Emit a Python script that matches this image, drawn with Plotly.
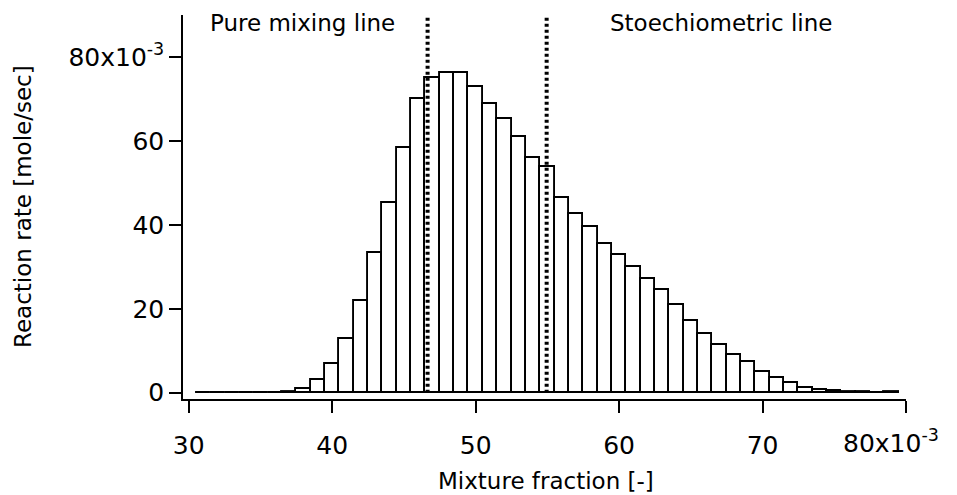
import plotly.graph_objects as go

# histogram bins (x10^-3), centre of each 1e-3 wide bin
mix_frac = list(range(31, 80))
rate = [0.05, 0.05, 0.05, 0.05, 0.05, 0.0, 0.2, 1.0, 3.0, 6.8,
        12.9, 21.9, 33.3, 45.1, 58.4, 70.1, 74.9, 76.2, 76.2, 72.8,
        68.8, 65.2, 60.9, 55.9, 53.7, 46.5, 42.5, 39.6, 35.4, 32.7,
        30.0, 27.2, 24.4, 20.8, 17.1, 14.1, 11.3, 9.1, 7.2, 5.0,
        3.6, 2.3, 1.2, 0.7, 0.4, 0.15, 0.1, 0.0, 0.1]

pure_mixing = 46.65
stoechiometric = 54.95

x_ticks = [30, 40, 50, 60, 70, 80]
x_ticktext = ["30", "40", "50", "60", "70", " "]
y_ticks = [0, 20, 40, 60, 80]
y_ticktext = ["0", "20", "40", "60", "80x10<sup>-3</sup>"]

FONT = "DejaVu Sans"

fig = go.Figure()
fig.add_bar(
    x=mix_frac,
    y=rate,
    width=1,
    marker=dict(color="white", line=dict(color="black", width=1.9)),
)

for xv in [pure_mixing, stoechiometric]:
    fig.add_shape(
        type="line", xref="x", yref="y",
        x0=xv, x1=xv, y0=0, y1=90,
        line=dict(color="black", width=4, dash="3px,3px"),
    )

fig.add_annotation(x=37.96, y=88, xref="x", yref="y", text="Pure mixing line",
                   showarrow=False, xanchor="center", yanchor="middle")
fig.add_annotation(x=67.1, y=88, xref="x", yref="y", text="Stoechiometric line",
                   showarrow=False, xanchor="center", yanchor="middle")
# the 80x10^-3 label on the x axis sits left of its tick
fig.add_annotation(x=80, y=0, xref="x", yref="paper", text="80x10<sup>-3</sup>",
                   showarrow=False, xanchor="right", yanchor="top",
                   xshift=35, yshift=-24, font=dict(size=25))
# axis titles
fig.add_annotation(x=0.502, y=-0.2135, xref="paper", yref="paper",
                   text="Mixture fraction [-]", showarrow=False,
                   xanchor="center", yanchor="middle")
fig.add_annotation(x=-0.2213, y=0.5, xref="paper", yref="paper",
                   text="Reaction rate [mole/sec]", showarrow=False,
                   textangle=-90, xanchor="center", yanchor="middle")

fig.update_layout(
    width=957, height=495,
    margin=dict(l=183, r=51, t=15, b=96),
    plot_bgcolor="white", paper_bgcolor="white",
    font=dict(family=FONT, size=23, color="black"),
    showlegend=False,
    bargap=0,
)
fig.update_xaxes(
    range=[29.6, 80.0],
    tickvals=x_ticks, ticktext=x_ticktext,
    ticks="outside", ticklen=12, tickwidth=1.5, tickcolor="black",
    showline=True, linecolor="black", linewidth=1.5,
    showgrid=False, zeroline=False,
    tickfont=dict(size=25), ticklabelstandoff=11,
)
fig.update_yaxes(
    range=[-1.5, 90],
    tickvals=y_ticks, ticktext=y_ticktext,
    ticks="outside", ticklen=12, tickwidth=1.5, tickcolor="black",
    showline=True, linecolor="black", linewidth=1.5,
    showgrid=False, zeroline=False,
    tickfont=dict(size=25),
)

fig.write_html("out.html", config={"displayModeBar": False},
               post_script="document.body.style.margin='0';")
